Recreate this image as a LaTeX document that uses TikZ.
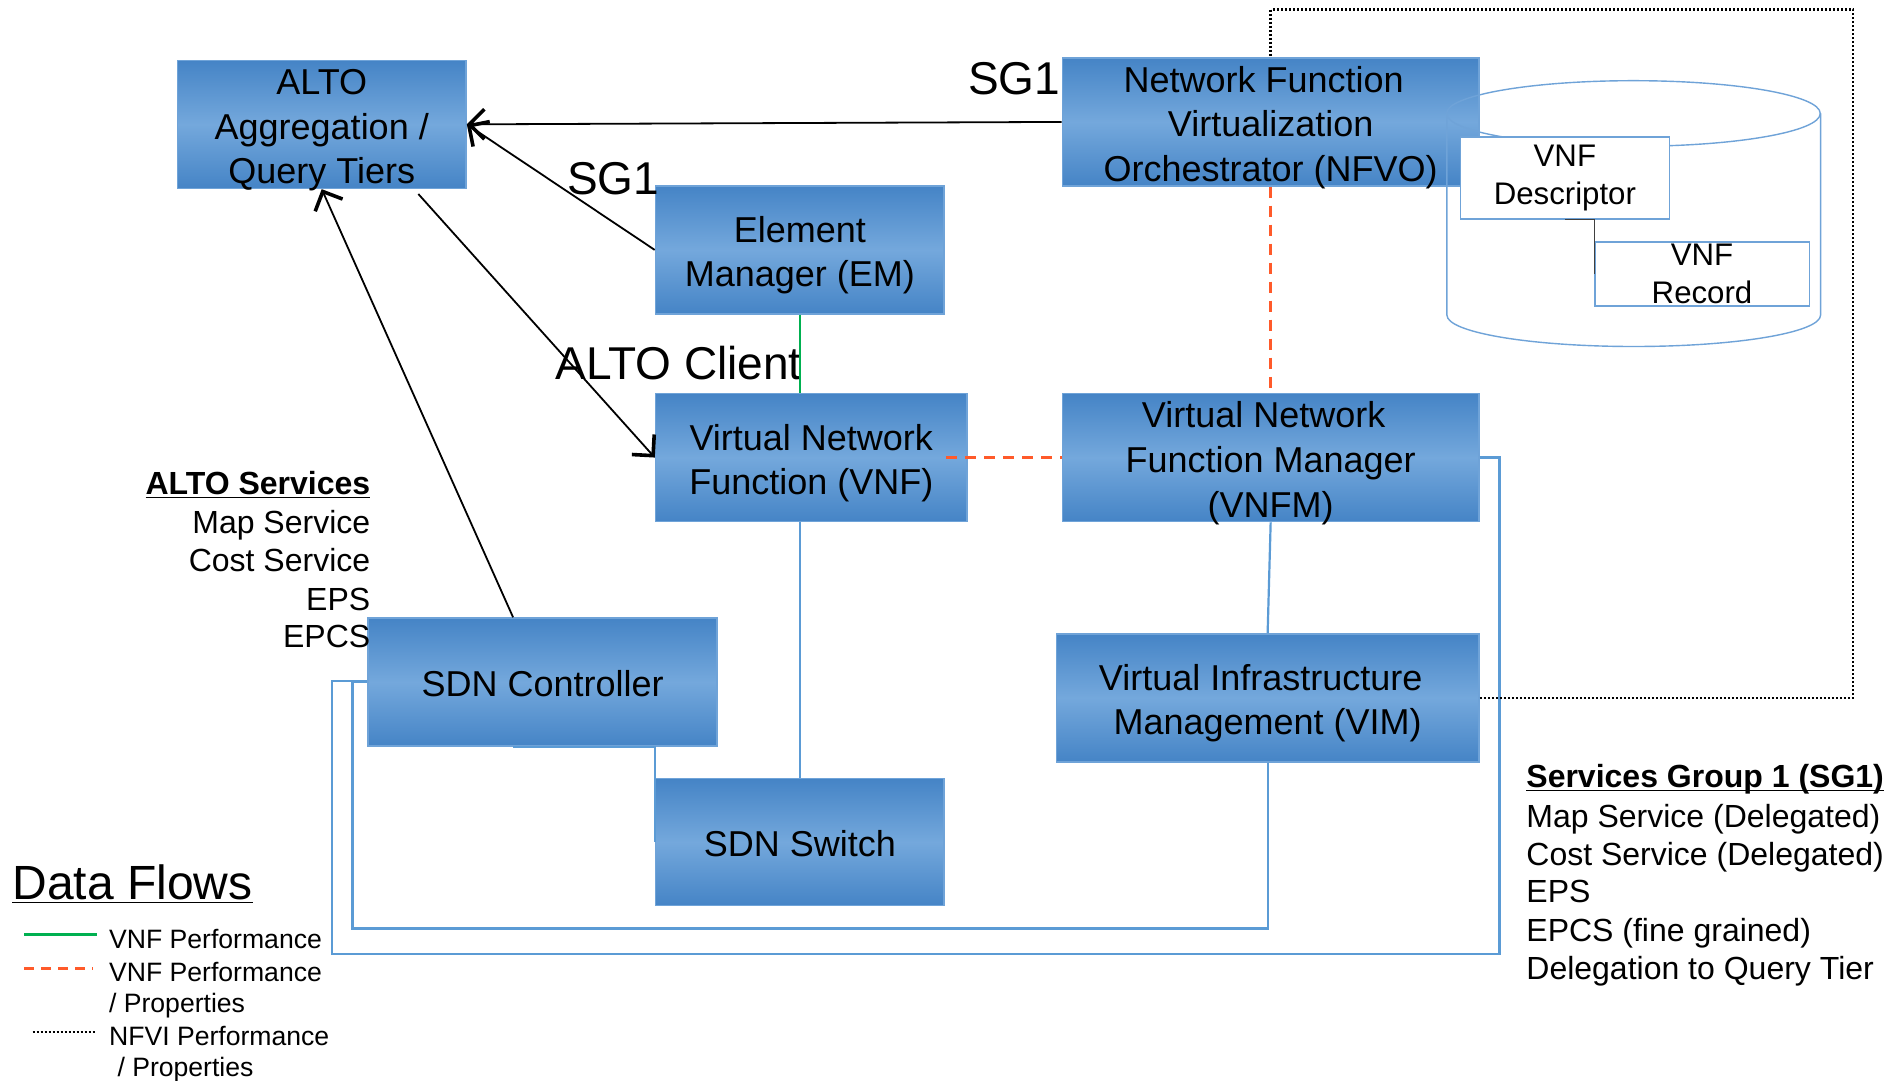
\documentclass[tikz,border=0pt]{standalone}
\usepackage{fontspec}
\setmainfont{Liberation Sans}
\usetikzlibrary{arrows.meta,calc}
\definecolor{boxdark}{HTML}{4584C6}
\definecolor{boxlight}{HTML}{74A8DC}
\definecolor{boxline}{HTML}{6FA3D8}
\definecolor{linkblue}{HTML}{5B9BD5}
\definecolor{flowgreen}{HTML}{00B050}
\definecolor{floworange}{HTML}{FF5A2A}
\newcommand\ulin[1]{\underline{\smash{#1}}}
\newcommand\mstrut{\rule{0pt}{18.5pt}}
\newcommand\tstrut{\rule{0pt}{14.9pt}}
\newcommand\lsh{\hspace*{7pt}}
\begin{document}
\begin{tikzpicture}[x=0.6036pt, y=-0.6036pt,
  box/.style={rectangle, draw=boxline, line width=0.8pt,
    top color=boxdark, bottom color=boxdark, middle color=boxlight,
    inner sep=0pt, align=center, text=black,
    font=\fontsize{18}{22.3}\selectfont, minimum height=64pt},
  sbox/.style={box, text height=14.4pt, text depth=0pt},
  wbox/.style={rectangle, draw=boxline, line width=0.7pt, fill=white,
    inner sep=0pt, align=center, text=black,
    font=\fontsize{15.6}{19}\selectfont},
  cyl/.style={draw=boxline, line width=0.7pt},
  big/.style={inner sep=0pt, font=\fontsize{23}{27}\selectfont},
  lst/.style={inner sep=0pt, font=\fontsize{16}{19.2}\selectfont, text height=11.5pt, text depth=0pt},
  leg/.style={inner sep=0pt, font=\fontsize{13.3}{16}\selectfont, text height=9.6pt, text depth=0pt},
  arr/.style={draw=black, line width=0.9pt,
    -{Straight Barb[length=7.5pt,width=15pt,line width=1.8pt]}},
  blink/.style={draw=linkblue, line width=1.1pt},
  glink/.style={draw=flowgreen, line width=1.3pt},
  olink/.style={draw=floworange, line width=1.3pt, dash pattern=on 5.5pt off 4pt},
  nlink/.style={draw=black, line width=1.2pt, dash pattern=on 1pt off 1pt}
]
\useasboundingbox (0,0) rectangle (1568,895);
\fill[white] (0,0) rectangle (1568,895);

% boxes
\node[box, minimum width=144.3pt] (alto) at (266.5,103) {\tstrut ALTO\\Aggregation /\\\smash{Query Tiers}};
\node[box, minimum width=208.2pt] (nfvo) at (1052.5,101) {\tstrut Network Function\lsh\\Virtualization\lsh\\\smash{Orchestrator (NFVO)}};
% cylinder (VNF catalogue)
\draw[cyl] (1353,94) ellipse [x radius=93.41pt, y radius=16.4pt];
\draw[cyl] (1198.5,94) -- (1198.5,261)
  arc[start angle=180, end angle=360, x radius=93.41pt, y radius=15.7pt] -- (1508,94);
\node[wbox, minimum width=104.4pt, minimum height=40.9pt] (desc) at (1296.2,147.5) {VNF\\Descriptor};
\node[wbox, minimum width=107.2pt, minimum height=32pt] (rec) at (1409.8,227) {VNF\\Record};
\draw[draw=black!75, line width=0.6pt] (desc.south) -| (rec.west);

\node[box, minimum width=144.3pt] (em) at (662.5,207) {\mstrut Element\\Manager (EM)};
\node[box, minimum width=155.7pt] (vnf) at (672,379) {\mstrut Virtual Network\\Function (VNF)};
\node[box, minimum width=208.2pt] (vnfm) at (1052.5,379) {\tstrut Virtual Network\lsh\\Function Manager\lsh\\\smash{(VNFM)}};
\node[sbox, minimum width=174.4pt] (sdn) at (449.5,565) {SDN Controller};
\node[box, minimum width=211.3pt] (vim) at (1050,578) {\mstrut Virtual Infrastructure\lsh\\Management (VIM)};
\node[sbox, minimum width=144.3pt, minimum height=63.4pt] (sw) at (662.5,697.5) {SDN Switch};

% labels on connectors
\node[big] (sg1a) at (840,65) {SG1};
\node[big] (sg1b) at (508,148) {SG1};
\node[big] (altoc) at (562,301) {ALTO Client};

% coordinates for connector bends
\coordinate (dtr) at (1535,8);
\coordinate (outerbl) at (275,790);
\coordinate (innerbl) at (292,769);

% black arrows
\draw[arr] (nfvo.west) -- (alto.east);
\draw[arr] (em.west) -- (alto.east);
\draw[arr] ($(alto.south)+(80,4)$) -- (vnf.west);
\draw[arr] ($(sdn.north)+(-24.5,0)$) -- (alto.south);

% data flows
\draw[glink] (em.south) -- (em.south |- vnf.north);
\draw[olink] ($(vnf.east)+(-18,0)$) -- (vnfm.west);
\draw[olink] (nfvo.south) -- (vnfm.north);

% blue links
\draw[blink] (vnfm.south) -- (vim.north);
\draw[blink] (vnf.south -| sw.north) -- (sw.north);
\draw[blink] ($(sdn.south)+(-24.5,0)$) -| (sw.west);
\draw[blink] (vim.south) |- (innerbl) |- (sdn.west);
\draw[blink] (vnfm.east) -| (1242,790) -| (outerbl) |- ($(sdn.west)+(0,-1)$);

% NFVI dotted
\draw[nlink] (vim.east) -| (dtr) -| (nfvo.north);

% ALTO services list
\node[lst, anchor=east] (als0) at (307,400) {\textbf{\ulin{ALTO Services}}};
\node[lst, anchor=east] (als1) at (307,432) {Map Service};
\node[lst, anchor=east] (als2) at (307,464) {Cost Service};
\node[lst, anchor=east] (als3) at (307,496) {EPS};
\node[lst, anchor=east] (als4) at (307,527) {EPCS};

% SG1 list
\node[lst, anchor=west] (sgl0) at (1264,643) {\textbf{\ulin{Services Group 1 (SG1)}}};
\node[lst, anchor=west] (sgl1) at (1264,676) {Map Service (Delegated)};
\node[lst, anchor=west] (sgl2) at (1264,707) {Cost Service (Delegated)};
\node[lst, anchor=west] (sgl3) at (1264,738) {EPS};
\node[lst, anchor=west] (sgl4) at (1264,770) {EPCS (fine grained)};
\node[lst, anchor=west] (sgl5) at (1264,802) {Delegation to Query Tier};

% legend
\node[inner sep=0pt, anchor=west, font=\fontsize{24}{28}\selectfont, text height=17.3pt, text depth=0pt] (dflows) at (10,731) {\ulin{Data Flows}};
\coordinate (lg1a) at (20,774); \coordinate (lg1b) at (80,774);
\coordinate (lg2a) at (20,802); \coordinate (lg2b) at (77,802);
\coordinate (lg3a) at (27,855); \coordinate (lg3b) at (80,855);
\draw[glink] (lg1a) -- (lg1b);
\draw[olink, dash pattern=on 5pt off 3.5pt] (lg2a) -- (lg2b);
\draw[nlink] (lg3a) -- (lg3b);
\node[leg, anchor=west] (lt1) at (90,778) {VNF Performance};
\node[leg, anchor=west] (lt2) at (90,805) {VNF Performance};
\node[leg, anchor=west] (lt3) at (90,831) {/ Properties};
\node[leg, anchor=west] (lt4) at (90,858) {NFVI Performance};
\node[leg, anchor=west] (lt5) at (97,884) {/ Properties};
\end{tikzpicture}
\end{document}
